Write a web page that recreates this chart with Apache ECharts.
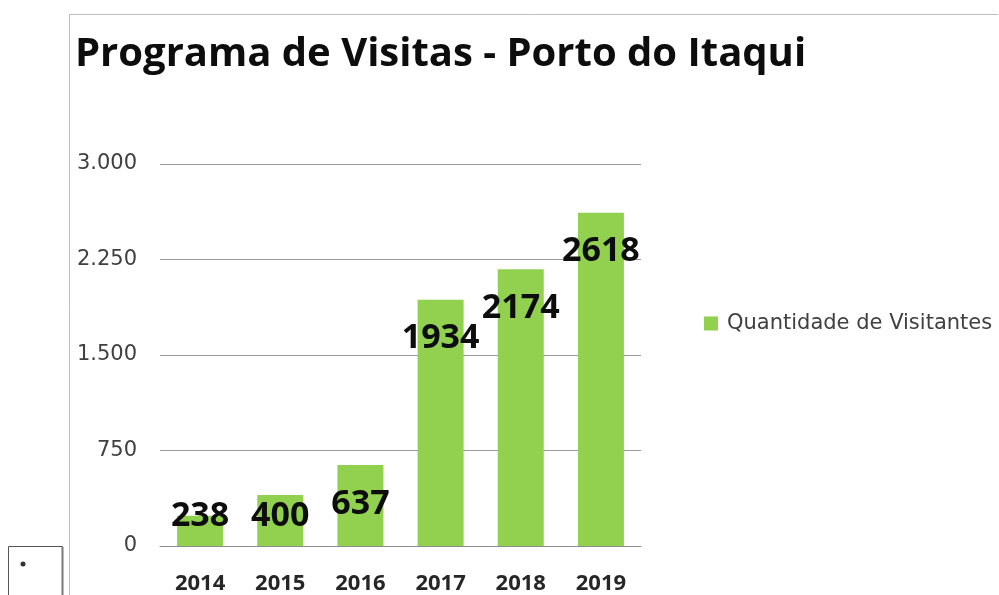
<!DOCTYPE html>
<html><head><meta charset="utf-8">
<script src="https://cdn.jsdelivr.net/npm/echarts@6/dist/echarts.min.js"></script>
<style>html,body{margin:0;padding:0;background:#fff}#c{width:999px;height:595px}</style>
</head><body><div id="c"></div>
<script>
const titleText = 'Programa de Visitas - Porto do Itaqui';
const seriesName = 'Quantidade de Visitantes';
const categories = ['2014','2015','2016','2017','2018','2019'];
const values = [238, 400, 637, 1934, 2174, 2618];
const yTicks = [0, 750, 1500, 2250, 3000];
const yTickLabels = ['0', '750', '1.500', '2.250', '3.000'];

const chart = echarts.init(document.getElementById('c'), null, {renderer:'canvas'});
const shortBars = [0, 1];
const data = values.map((v, i) => shortBars.includes(i)
  ? {value: v, label: {position: 'insideBottom', distance: 13}}
  : v);

chart.setOption({
  animation: false,
  backgroundColor: '#fff',
  title: {
    text: titleText, left: 75, top: 35, padding: 0,
    textStyle: {fontFamily: 'Open Sans', fontWeight: 'bold', fontSize: 40, color: '#0d0d0d'}
  },
  legend: {
    data: [seriesName], left: 704, top: 313, orient: 'vertical',
    icon: 'rect', itemWidth: 14, itemHeight: 14, padding: 0,
    textStyle: {fontFamily: 'DejaVu Sans', fontSize: 21, color: '#404040', padding: [0,0,0,4]}
  },
  grid: {left: 160, right: 358, top: 164, bottom: 47, containLabel: false},
  xAxis: {
    type: 'category', data: categories,
    axisLine: {show: true, lineStyle: {color: '#8c8c8c', width: 1}},
    axisTick: {show: false},
    axisLabel: {margin: 27, fontFamily: 'Open Sans', fontWeight: 'bold', fontSize: 22, color: '#262626'}
  },
  yAxis: {
    type: 'value', min: yTicks[0], max: yTicks[yTicks.length-1], interval: yTicks[1]-yTicks[0],
    axisLine: {show: false}, axisTick: {show: false},
    splitLine: {lineStyle: {color: '#9a9a9a', width: 1}},
    axisLabel: {margin: 23, fontFamily: 'DejaVu Sans', fontSize: 21, color: '#404040',
      formatter: v => yTickLabels[yTicks.indexOf(v)] ?? String(v)}
  },
  series: [{
    name: seriesName, type: 'bar', data: data, barWidth: 46,
    itemStyle: {color: '#92D050'},
    label: {show: true, position: 'insideTop', distance: 22,
      fontFamily: 'Open Sans', fontWeight: 'bold', fontSize: 34, color: '#0d0d0d'}
  }],
  graphic: [
    {type: 'line', shape: {x1: 69.5, y1: 14.5, x2: 998, y2: 14.5}, style: {stroke: '#bdbdbd', lineWidth: 1}},
    {type: 'line', shape: {x1: 69.5, y1: 14.5, x2: 69.5, y2: 595}, style: {stroke: '#bdbdbd', lineWidth: 1}},
    {type: 'rect', shape: {x: 8.5, y: 546.5, width: 54, height: 60}, style: {fill: '#fff', stroke: '#555', lineWidth: 1}},
    {type: 'line', shape: {x1: 62.5, y1: 547, x2: 62.5, y2: 595}, style: {stroke: '#777', lineWidth: 2}},
    {type: 'circle', shape: {cx: 23, cy: 564, r: 2.5}, style: {fill: '#333'}}
  ]
});
</script></body></html>
